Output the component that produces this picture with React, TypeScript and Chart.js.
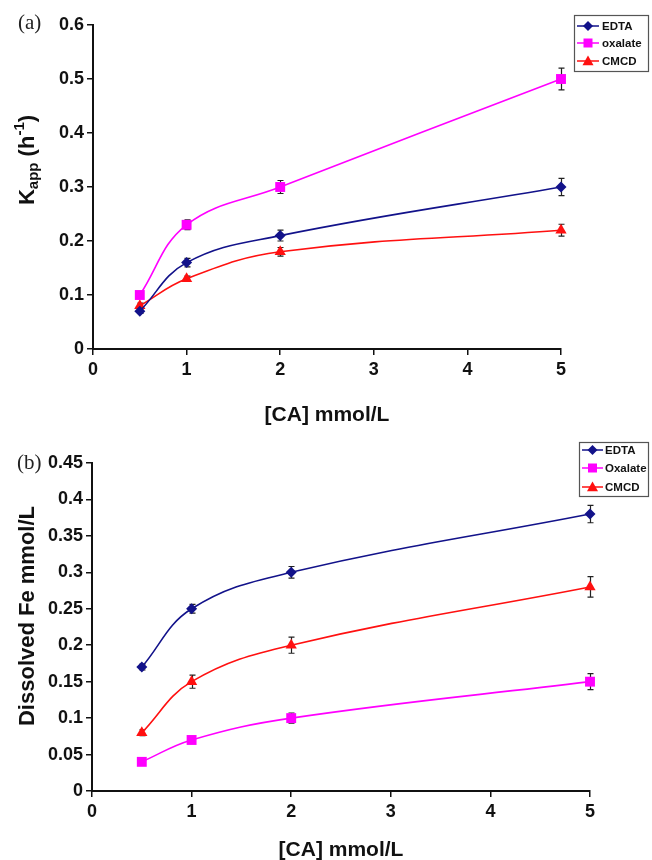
import React, { useEffect, useRef } from "react";
import { Chart, registerables } from "chart.js";

Chart.register(...registerables);

// ---------- data ----------
const concentrations = [0.5, 1, 2, 5];
const xTickValues = [0, 1, 2, 3, 4, 5];

// panel (a): apparent rate constant Kapp (h^-1)
const kappEDTA = [0.07, 0.16, 0.21, 0.3];
const kappEDTAErr = [0.004, 0.008, 0.01, 0.016];
const kappOxalate = [0.1, 0.23, 0.3, 0.5];
const kappOxalateErr = [0, 0.009, 0.012, 0.02];
const kappCMCD = [0.08, 0.13, 0.18, 0.22];
const kappCMCDErr = [0.005, 0.005, 0.008, 0.011];
const kappTicks = [0, 0.1, 0.2, 0.3, 0.4, 0.5, 0.6];

// panel (b): dissolved Fe (mmol/L)
const feEDTA = [0.17, 0.25, 0.3, 0.38];
const feEDTAErr = [0.004, 0.006, 0.008, 0.012];
const feOxalate = [0.04, 0.07, 0.1, 0.15];
const feOxalateErr = [0.002, 0.003, 0.007, 0.011];
const feCMCD = [0.08, 0.15, 0.2, 0.28];
const feCMCDErr = [0.004, 0.009, 0.011, 0.014];
const feTicks = [0, 0.05, 0.1, 0.15, 0.2, 0.25, 0.3, 0.35, 0.4, 0.45];

const xTitle = "[CA] mmol/L";

// ---------- styles ----------
const W = 652;
const H = 430;
const SANS = "'Liberation Sans', Arial, sans-serif";
const SERIF = "'Liberation Serif', 'Times New Roman', serif";
const NAVY = "#12128a";
const MAGENTA = "#ff00ff";
const RED = "#ff1010";

type Series = {
  label: string;
  values: number[];
  errors: number[];
  color: string;
  marker: "diamond" | "square" | "triangle";
};

type TitlePart = { t: string; small?: boolean; dy?: number };

type PanelCfg = {
  tag: string;
  tagX: number;
  tagY: number;
  left: number;
  right: number;
  top: number;
  bottom: number;
  yMax: number;
  yTicks: number[];
  series: Series[];
  yTitle: TitlePart[];
  yTitleX: number;
  yTitleY: number;
  xTitleY: number;
  legend: { x: number; y: number; w: number; h: number; rows: number[]; lineX0: number; lineX1: number; textX: number };
};

function drawMarker(ctx: CanvasRenderingContext2D, marker: string, x: number, y: number, color: string) {
  ctx.save();
  ctx.fillStyle = color;
  ctx.beginPath();
  if (marker === "diamond") {
    const r = 5;
    ctx.moveTo(x, y - r);
    ctx.lineTo(x + r, y);
    ctx.lineTo(x, y + r);
    ctx.lineTo(x - r, y);
    ctx.closePath();
  } else if (marker === "square") {
    const r = 4.5;
    ctx.rect(x - r, y - r, 2 * r, 2 * r);
  } else {
    const r = 5.5;
    ctx.moveTo(x, y - r);
    ctx.lineTo(x + r, y + r * 0.75);
    ctx.lineTo(x - r, y + r * 0.75);
    ctx.closePath();
  }
  ctx.fill();
  ctx.restore();
}

const errorBarPlugin = {
  id: "errorBars",
  beforeDatasetsDraw(chart: any) {
    const ctx: CanvasRenderingContext2D = chart.ctx;
    const yScale = chart.scales.y;
    ctx.save();
    ctx.strokeStyle = "#222";
    ctx.lineWidth = 1.2;
    chart.data.datasets.forEach((ds: any, di: number) => {
      const meta = chart.getDatasetMeta(di);
      ds.errors.forEach((e: number, i: number) => {
        if (!e) return;
        const pt = meta.data[i];
        const v = ds.data[i].y;
        const y0 = yScale.getPixelForValue(v - e);
        const y1 = yScale.getPixelForValue(v + e);
        const x = Math.round(pt.x) + 0.5;
        ctx.beginPath();
        ctx.moveTo(x, y0);
        ctx.lineTo(x, y1);
        ctx.moveTo(x - 3, y0);
        ctx.lineTo(x + 3, y0);
        ctx.moveTo(x - 3, y1);
        ctx.lineTo(x + 3, y1);
        ctx.stroke();
      });
    });
    ctx.restore();
  },
};

function makeDecorPlugin(cfg: PanelCfg) {
  return {
    id: "decor",
    afterDraw(chart: any) {
      const ctx: CanvasRenderingContext2D = chart.ctx;
      const area = chart.chartArea;
      ctx.save();
      // panel tag
      ctx.fillStyle = "#222";
      ctx.font = `21px ${SERIF}`;
      ctx.textAlign = "left";
      ctx.textBaseline = "middle";
      ctx.fillText(cfg.tag, cfg.tagX, cfg.tagY);

      // x title
      ctx.fillStyle = "#111";
      ctx.font = `bold 21px ${SANS}`;
      ctx.textAlign = "center";
      ctx.fillText(xTitle, (area.left + area.right) / 2, cfg.xTitleY);

      // y title (rotated, with sub/superscripts)
      ctx.save();
      ctx.translate(cfg.yTitleX, cfg.yTitleY);
      ctx.rotate(-Math.PI / 2);
      ctx.textAlign = "left";
      ctx.textBaseline = "middle";
      const big = `bold 22px ${SANS}`;
      const small = `bold 15px ${SANS}`;
      let total = 0;
      cfg.yTitle.forEach((p) => {
        ctx.font = p.small ? small : big;
        total += ctx.measureText(p.t).width;
      });
      let x = -total / 2;
      cfg.yTitle.forEach((p) => {
        ctx.font = p.small ? small : big;
        ctx.fillText(p.t, x, p.dy || 0);
        x += ctx.measureText(p.t).width;
      });
      ctx.restore();

      // legend
      const lg = cfg.legend;
      ctx.fillStyle = "#fff";
      ctx.fillRect(lg.x, lg.y, lg.w, lg.h);
      ctx.strokeStyle = "#555";
      ctx.lineWidth = 1.2;
      ctx.strokeRect(lg.x + 0.5, lg.y + 0.5, lg.w, lg.h);
      ctx.font = `bold 11.5px ${SANS}`;
      ctx.textAlign = "left";
      ctx.textBaseline = "middle";
      cfg.series.forEach((s, i) => {
        const ry = lg.rows[i];
        ctx.strokeStyle = s.color;
        ctx.lineWidth = 1.5;
        ctx.beginPath();
        ctx.moveTo(lg.lineX0, ry);
        ctx.lineTo(lg.lineX1, ry);
        ctx.stroke();
        drawMarker(ctx, s.marker, (lg.lineX0 + lg.lineX1) / 2, ry, s.color);
        ctx.fillStyle = "#111";
        ctx.fillText(s.label, lg.textX, ry + 1);
      });
      ctx.restore();
    },
  };
}

function markerStyle(m: string) {
  if (m === "diamond") return { pointStyle: "rectRot", pointRadius: 5.5 };
  if (m === "square") return { pointStyle: "rect", pointRadius: 7 };
  return { pointStyle: "triangle", pointRadius: 6.5 };
}

function Panel({ cfg }: { cfg: PanelCfg }) {
  const ref = useRef<HTMLCanvasElement>(null);
  useEffect(() => {
    const canvas = ref.current!;
    const tickFont = { family: SANS, size: 18, weight: "bold" as const };
    const chart = new Chart(canvas, {
      type: "line",
      data: {
        datasets: cfg.series.map((s) => ({
          label: s.label,
          data: concentrations.map((x, i) => ({ x, y: s.values[i] })),
          errors: s.errors,
          borderColor: s.color,
          backgroundColor: s.color,
          borderWidth: 1.6,
          pointBorderWidth: 0,
          ...markerStyle(s.marker),
          tension: 0.4,
          fill: false,
          clip: false,
        })) as any,
      },
      options: {
        animation: false,
        responsive: false,
        events: [],
        layout: { padding: { top: cfg.top, right: W - cfg.right, left: 0, bottom: 0 } },
        scales: {
          x: {
            type: "linear",
            min: 0,
            max: 5,
            afterBuildTicks: (s: any) => {
              s.ticks = xTickValues.map((v) => ({ value: v }));
            },
            ticks: { font: tickFont, color: "#111", padding: 4, callback: (v: any) => String(v) },
            grid: { drawOnChartArea: false, drawTicks: true, tickLength: 6, color: "#111", lineWidth: 1.5 },
            border: { color: "#111", width: 2 },
            afterFit: (s: any) => {
              s.height = H - cfg.bottom;
            },
          },
          y: {
            type: "linear",
            min: 0,
            max: cfg.yMax,
            afterBuildTicks: (s: any) => {
              s.ticks = cfg.yTicks.map((v) => ({ value: v }));
            },
            ticks: { font: tickFont, color: "#111", padding: 3, callback: (v: any) => String(+Number(v).toFixed(2)) },
            grid: { drawOnChartArea: false, drawTicks: true, tickLength: 6, color: "#111", lineWidth: 1.5 },
            border: { color: "#111", width: 2 },
            afterFit: (s: any) => {
              s.width = cfg.left;
            },
          },
        },
        plugins: { legend: { display: false }, tooltip: { enabled: false } },
      } as any,
      plugins: [errorBarPlugin, makeDecorPlugin(cfg)],
    });
    return () => chart.destroy();
  }, [cfg]);
  return <canvas ref={ref} width={W} height={H} style={{ display: "block" }} />;
}

const panelA: PanelCfg = {
  tag: "(a)",
  tagX: 18,
  tagY: 23,
  left: 93,
  right: 561,
  top: 25,
  bottom: 349,
  yMax: 0.6,
  yTicks: kappTicks,
  series: [
    { label: "EDTA", values: kappEDTA, errors: kappEDTAErr, color: NAVY, marker: "diamond" },
    { label: "oxalate", values: kappOxalate, errors: kappOxalateErr, color: MAGENTA, marker: "square" },
    { label: "CMCD", values: kappCMCD, errors: kappCMCDErr, color: RED, marker: "triangle" },
  ],
  yTitle: [{ t: "K" }, { t: "app", small: true, dy: 6 }, { t: " (h" }, { t: "-1", small: true, dy: -8 }, { t: ")" }],
  yTitleX: 28,
  yTitleY: 160,
  xTitleY: 415,
  legend: { x: 574, y: 15, w: 74, h: 56, rows: [26, 43, 61], lineX0: 577, lineX1: 599, textX: 602 },
};

const panelB: PanelCfg = {
  tag: "(b)",
  tagX: 17,
  tagY: 33,
  left: 92,
  right: 590,
  top: 33,
  bottom: 361,
  yMax: 0.45,
  yTicks: feTicks,
  series: [
    { label: "EDTA", values: feEDTA, errors: feEDTAErr, color: NAVY, marker: "diamond" },
    { label: "Oxalate", values: feOxalate, errors: feOxalateErr, color: MAGENTA, marker: "square" },
    { label: "CMCD", values: feCMCD, errors: feCMCDErr, color: RED, marker: "triangle" },
  ],
  yTitle: [{ t: "Dissolved Fe mmol/L" }],
  yTitleX: 28,
  yTitleY: 186,
  xTitleY: 420,
  legend: { x: 579, y: 12, w: 69, h: 54, rows: [20, 38, 57], lineX0: 582, lineX1: 603, textX: 605 },
};

export default function App() {
  useEffect(() => {
    document.body.style.margin = "0";
    document.body.style.background = "#fff";
  }, []);
  return (
    <div style={{ width: W, height: 860, background: "#fff" }}>
      <Panel cfg={panelA} />
      <Panel cfg={panelB} />
    </div>
  );
}
